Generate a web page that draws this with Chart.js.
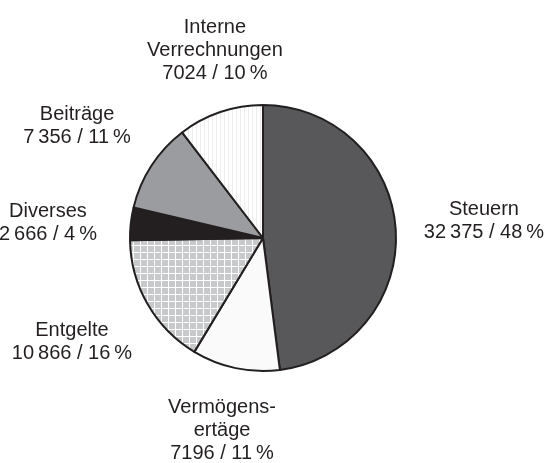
<!DOCTYPE html>
<html>
<head>
<meta charset="utf-8">
<script src="https://cdn.jsdelivr.net/npm/chart.js@4/dist/chart.umd.min.js"></script>
<style>
  html, body { margin: 0; padding: 0; background: #fff; }
  canvas { display: block; }
</style>
</head>
<body>
<canvas id="pie-chart" width="546" height="463"></canvas>
<script>
// Slices, clockwise from 12 o'clock
const categories = [
    ['Steuern'],
    ['Vermögens-', 'ertäge'],
    ['Entgelte'],
    ['Diverses'],
    ['Beiträge'],
    ['Interne', 'Verrechnungen']
];
const amounts = [32375, 7196, 10866, 2666, 7356, 7024];
const amountLabels = ['32\u2009375', '7196', '10\u2009866', '2\u2009666', '7\u2009356', '7024'];
const percentLabels = ['48', '11', '16', '4', '11', '10'];

// label placement: angle shift from slice middle (deg) and distance as a factor of the radius
const labelShift = [-1.1, 0.2, 1.7, -1.7, -1.4, 4.5];
const labelDist = [1.667, 1.469, 1.63, 1.622, 1.64, 1.47];

function makePattern(size, drawTile) {
    const c = document.createElement('canvas');
    c.width = size;
    c.height = size;
    const g = c.getContext('2d');
    drawTile(g);
    return document.getElementById('pie-chart').getContext('2d').createPattern(c, 'repeat');
}

// small grey squares with white gaps
const checkPattern = makePattern(7, g => {
    g.fillStyle = '#ffffff';
    g.fillRect(0, 0, 7, 7);
    g.fillStyle = '#c8c9cb';
    g.fillRect(1, 1, 6, 6);
});

// faint vertical stripes
const stripePattern = makePattern(4, g => {
    g.fillStyle = '#ffffff';
    g.fillRect(0, 0, 4, 4);
    g.fillStyle = '#ededed';
    g.fillRect(0, 0, 1, 4);
});

const sliceColors = ['#58585a', '#fafafa', checkPattern, '#231f20', '#9b9c9f', stripePattern];

const outsideLabels = {
    id: 'outsideLabels',
    afterDraw(chart) {
        const ctx = chart.ctx;
        const arcs = chart.getDatasetMeta(0).data;
        const fs = 20;
        const lineH = 23;
        ctx.save();
        ctx.font = fs + 'px "Liberation Sans", Arial, sans-serif';
        ctx.fillStyle = '#231f20';
        ctx.textAlign = 'center';
        ctx.textBaseline = 'alphabetic';
        arcs.forEach((arc, i) => {
            const mid = (arc.startAngle + arc.endAngle) / 2 + labelShift[i] * Math.PI / 180;
            const r = arc.outerRadius * labelDist[i];
            const cx = arc.x + Math.cos(mid) * r;
            const cy = arc.y + Math.sin(mid) * r;
            const lines = categories[i].concat([amountLabels[i] + ' / ' + percentLabels[i] + '\u2009%']);
            const top = cy - (lines.length - 1) * lineH / 2;
            // cy is the middle of the cap height of the block
            lines.forEach((t, k) => ctx.fillText(t, cx, top + k * lineH + fs * 0.358));
        });
        ctx.restore();
    }
};

new Chart(document.getElementById('pie-chart').getContext('2d'), {
    type: 'pie',
    data: {
        labels: categories.map(c => c.join('')),
        datasets: [{
            data: amounts,
            backgroundColor: sliceColors,
            borderColor: '#231f20',
            borderWidth: 2
        }]
    },
    options: {
        responsive: false,
        animation: false,
        layout: { padding: { left: 129, right: 149, top: 104, bottom: 91 } },
        plugins: {
            legend: { display: false },
            tooltip: { enabled: false }
        }
    },
    plugins: [outsideLabels]
});
</script>
</body>
</html>
